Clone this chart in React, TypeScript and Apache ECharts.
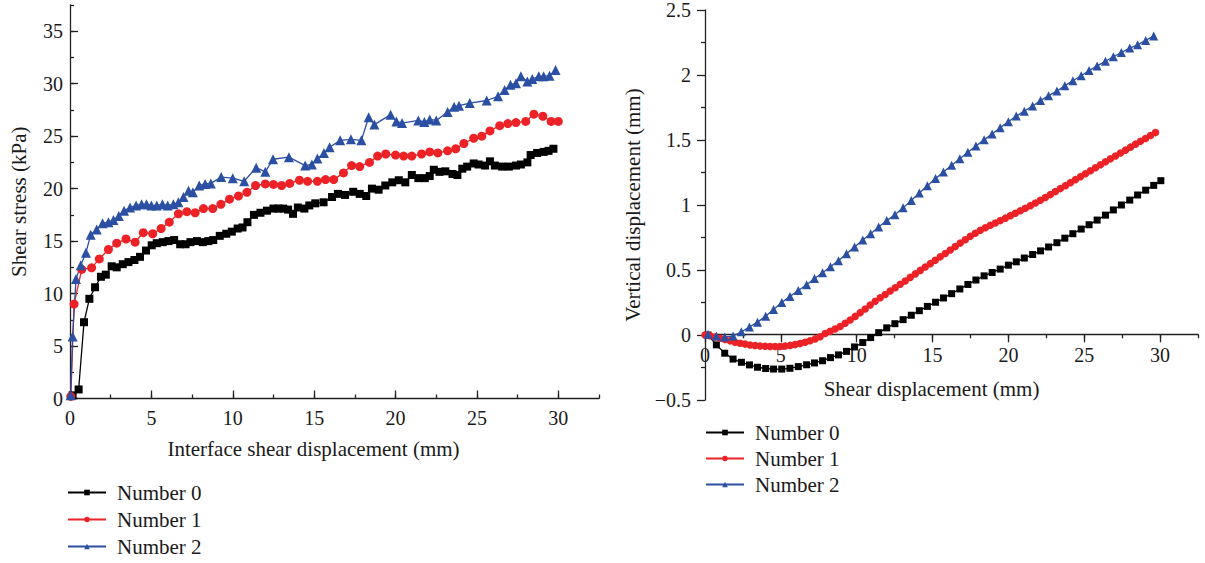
import React, { useEffect, useRef } from "react";
import * as echarts from "echarts";

const FONT = '"Liberation Serif", "DejaVu Serif", serif';
const TEXT_COLOR = "#1a1a1a";
const AXIS_COLOR = "#222222";
const SERIES_NAMES = ["Number 0", "Number 1", "Number 2"];
const COLORS = ["#000000", "#ec2227", "#2b4fa2"];

// ---------- Left chart: shear stress (kPa) vs interface shear displacement (mm)
const L0_X = [0.16, 0.53, 0.86, 1.19, 1.54, 1.9, 2.2, 2.56, 2.87, 3.24, 3.59, 3.96, 4.3, 4.67, 5.02, 5.33, 5.7, 6.05, 6.4, 6.77, 7.1, 7.4, 7.8, 8.16, 8.5, 8.8, 9.2, 9.6, 9.94, 10.3, 10.6, 10.9, 11.3, 11.7, 12.1, 12.5, 12.8, 13.1, 13.4, 13.7, 14.0, 14.4, 14.7, 15.07, 15.58, 16.1, 16.46, 16.9, 17.4, 17.8, 18.2, 18.55, 18.96, 19.37, 19.8, 20.2, 20.6, 21.0, 21.4, 21.8, 22.1, 22.35, 22.7, 23.06, 23.5, 23.8, 24.1, 24.4, 24.8, 25.1, 25.5, 25.8, 26.1, 26.55, 26.96, 27.4, 27.7, 28.1, 28.3, 28.7, 29.1, 29.4, 29.7];
const L0_Y = [0.3, 0.86, 7.27, 9.5, 10.6, 11.6, 11.8, 12.6, 12.5, 12.8, 13.0, 13.2, 13.5, 14.1, 14.6, 14.8, 14.9, 15.0, 15.1, 14.7, 14.7, 14.9, 15.0, 14.9, 15.0, 15.1, 15.5, 15.7, 15.9, 16.2, 16.3, 16.8, 17.5, 17.7, 17.9, 18.1, 18.1, 18.1, 18.0, 17.6, 18.2, 18.1, 18.4, 18.6, 18.7, 19.2, 19.5, 19.4, 19.7, 19.5, 19.3, 20.0, 19.9, 20.3, 20.6, 20.8, 20.6, 21.3, 21.0, 21.0, 21.2, 21.8, 21.6, 21.65, 21.4, 21.3, 21.9, 22.1, 22.4, 22.3, 22.2, 22.6, 22.2, 22.1, 22.1, 22.2, 22.3, 22.5, 23.2, 23.4, 23.5, 23.6, 23.8];

const L1_X = [0.05, 0.25, 0.72, 1.33, 1.8, 2.36, 2.87, 3.44, 4.0, 4.5, 5.08, 5.6, 6.1, 6.66, 7.18, 7.69, 8.2, 8.77, 9.27, 9.8, 10.35, 10.87, 11.4, 12.0, 12.5, 13.0, 13.5, 14.1, 14.6, 15.2, 15.7, 16.2, 16.8, 17.3, 17.8, 18.4, 18.9, 19.4, 20.0, 20.5, 21.0, 21.6, 22.1, 22.6, 23.2, 23.7, 24.2, 24.8, 25.3, 25.8, 26.4, 26.9, 27.4, 28.0, 28.5, 29.05, 29.56, 30.0];
const L1_Y = [0.2, 9.0, 12.3, 12.45, 13.3, 14.2, 14.8, 15.2, 14.9, 15.8, 15.7, 16.2, 16.8, 17.6, 17.8, 17.7, 18.1, 18.1, 18.5, 19.0, 19.3, 19.65, 20.3, 20.45, 20.4, 20.3, 20.5, 20.8, 20.7, 20.7, 20.86, 20.86, 21.5, 22.2, 22.1, 22.5, 23.1, 23.3, 23.2, 23.1, 23.1, 23.3, 23.5, 23.4, 23.6, 23.8, 24.3, 24.8, 25.0, 25.5, 26.0, 26.2, 26.3, 26.4, 27.1, 26.9, 26.4, 26.4];

const L2_X = [0.04, 0.16, 0.37, 0.66, 0.98, 1.27, 1.64, 2.0, 2.36, 2.67, 3.0, 3.32, 3.69, 4.06, 4.4, 4.7, 5.0, 5.33, 5.68, 6.0, 6.35, 6.66, 6.97, 7.28, 7.55, 7.94, 8.3, 8.65, 9.29, 10.0, 10.7, 11.44, 12.0, 12.47, 13.45, 14.45, 14.86, 15.2, 15.6, 15.95, 16.6, 17.26, 17.9, 18.35, 18.7, 19.7, 20.05, 20.4, 21.4, 21.77, 22.1, 22.5, 23.2, 23.6, 23.9, 24.56, 25.6, 26.3, 26.7, 27.06, 27.4, 27.7, 28.1, 28.4, 28.8, 29.1, 29.46, 29.83];
const L2_Y = [0.3, 5.9, 11.4, 12.7, 13.9, 15.6, 16.1, 16.7, 16.8, 17.0, 17.4, 17.9, 18.2, 18.4, 18.5, 18.5, 18.4, 18.4, 18.5, 18.4, 18.5, 18.7, 19.2, 19.8, 19.65, 20.3, 20.45, 20.5, 21.1, 21.0, 20.7, 22.0, 21.6, 22.8, 23.0, 22.2, 22.3, 22.86, 23.4, 23.95, 24.6, 24.7, 24.6, 26.8, 26.1, 27.05, 26.4, 26.25, 26.5, 26.35, 26.6, 26.5, 27.3, 27.8, 27.9, 28.15, 28.4, 28.8, 29.4, 29.9, 30.05, 30.7, 30.2, 30.45, 30.7, 30.7, 30.76, 31.3];

// ---------- Right chart: vertical displacement (mm) vs shear displacement (mm)
const R_X = [0.2, 0.75, 1.3, 1.85, 2.4, 2.93, 3.46, 4.0, 4.52, 5.06, 5.6, 6.15, 6.7, 7.22, 7.75, 8.27, 8.8, 9.33, 9.86, 10.4, 10.92, 11.45, 11.98, 12.52, 13.06, 13.6, 14.13, 14.66, 15.2, 15.72, 16.26, 16.8, 17.33, 17.86, 18.4, 18.93, 19.46, 20.0, 20.52, 21.05, 21.6, 22.12, 22.65, 23.2, 23.72, 24.25, 24.8, 25.32, 25.85, 26.4, 26.92, 27.45, 28.0, 28.52, 29.05, 29.58, 30.05];
const R0_Y = [0.0, -0.076, -0.14, -0.185, -0.21, -0.23, -0.248, -0.258, -0.262, -0.262, -0.256, -0.243, -0.229, -0.215, -0.198, -0.174, -0.153, -0.126, -0.092, -0.058, -0.02, 0.018, 0.055, 0.087, 0.118, 0.152, 0.187, 0.22, 0.252, 0.285, 0.318, 0.354, 0.389, 0.423, 0.455, 0.481, 0.507, 0.537, 0.563, 0.592, 0.619, 0.647, 0.677, 0.71, 0.745, 0.779, 0.815, 0.848, 0.884, 0.922, 0.962, 1.0, 1.038, 1.077, 1.114, 1.151, 1.187];
const R2_Y = [0.005, -0.008, -0.015, -0.008, 0.025, 0.061, 0.099, 0.145, 0.196, 0.25, 0.297, 0.342, 0.386, 0.434, 0.479, 0.525, 0.572, 0.625, 0.677, 0.731, 0.779, 0.83, 0.88, 0.925, 0.978, 1.035, 1.093, 1.148, 1.203, 1.254, 1.305, 1.356, 1.406, 1.454, 1.501, 1.547, 1.595, 1.64, 1.684, 1.722, 1.762, 1.804, 1.841, 1.876, 1.918, 1.956, 1.994, 2.034, 2.07, 2.106, 2.14, 2.173, 2.207, 2.232, 2.266, 2.3];

const R1_X = [0, 0.33, 0.66, 0.99, 1.32, 1.65, 1.98, 2.31, 2.64, 2.97, 3.3, 3.63, 3.96, 4.29, 4.62, 4.95, 5.28, 5.61, 5.94, 6.27, 6.6, 6.93, 7.26, 7.59, 7.92, 8.25, 8.58, 8.91, 9.24, 9.57, 9.9, 10.23, 10.56, 10.89, 11.22, 11.55, 11.88, 12.21, 12.54, 12.87, 13.2, 13.53, 13.86, 14.19, 14.52, 14.85, 15.18, 15.51, 15.84, 16.17, 16.5, 16.83, 17.16, 17.49, 17.82, 18.15, 18.48, 18.81, 19.14, 19.47, 19.8, 20.13, 20.46, 20.79, 21.12, 21.45, 21.78, 22.11, 22.44, 22.77, 23.1, 23.43, 23.76, 24.09, 24.42, 24.75, 25.08, 25.41, 25.74, 26.07, 26.4, 26.73, 27.06, 27.39, 27.72, 28.05, 28.38, 28.71, 29.04, 29.37, 29.7];
const R1_Y = [0, -0.006, -0.015, -0.025, -0.035, -0.045, -0.055, -0.063, -0.07, -0.077, -0.081, -0.085, -0.087, -0.088, -0.089, -0.088, -0.085, -0.08, -0.074, -0.066, -0.056, -0.044, -0.03, -0.014, 0.012, 0.028, 0.046, 0.066, 0.09, 0.115, 0.143, 0.172, 0.2, 0.23, 0.259, 0.286, 0.312, 0.338, 0.364, 0.39, 0.416, 0.443, 0.47, 0.497, 0.523, 0.549, 0.575, 0.601, 0.627, 0.654, 0.68, 0.707, 0.733, 0.759, 0.783, 0.805, 0.825, 0.844, 0.862, 0.88, 0.899, 0.918, 0.937, 0.956, 0.975, 0.995, 1.015, 1.036, 1.058, 1.08, 1.103, 1.126, 1.149, 1.172, 1.195, 1.218, 1.24, 1.263, 1.286, 1.309, 1.332, 1.355, 1.377, 1.4, 1.422, 1.445, 1.468, 1.49, 1.512, 1.535, 1.557];

// ---------- Axis ticks
const X_MAJOR = [0, 5, 10, 15, 20, 25, 30];
const L_Y_MAJOR = [0, 5, 10, 15, 20, 25, 30, 35];

const zip = (xs: number[], ys: number[]) => ys.map((y, i) => [xs[i], y]);

// right grid geometry: y range -0.5..2.5 over 394 px, x axis drawn at y = 0
const R_GRID_H = 394;
const R_ZERO_OFFSET = -(0.5 / 3) * R_GRID_H;

export default function App() {
  const ref = useRef<HTMLDivElement>(null);
  useEffect(() => {
    if (!ref.current) return;
    const chart = echarts.init(ref.current, null, { renderer: "svg" });
    const label = { fontFamily: FONT, fontSize: 20, color: TEXT_COLOR };
    const nameStyle = { fontFamily: FONT, fontSize: 21, color: TEXT_COLOR };
    const tickLine = { color: AXIS_COLOR, width: 1.3 };
    const axisLine = { show: true, onZero: false, lineStyle: { color: AXIS_COLOR, width: 1.3 } };

    const mkSeries = (
      name: string,
      data: number[][],
      color: string,
      symbol: string,
      size: number,
      xi: number,
      yi: number
    ) => ({
      type: "line",
      name,
      data,
      xAxisIndex: xi,
      yAxisIndex: yi,
      symbol,
      symbolSize: size,
      showAllSymbol: true,
      lineStyle: { color, width: 1.3 },
      itemStyle: { color },
      z: 3,
    });

    const legendBase = {
      data: SERIES_NAMES,
      orient: "vertical",
      padding: 0,
      itemWidth: 38,
      itemHeight: 7,
      itemGap: 6,
      height: 120,
      textStyle: { fontFamily: FONT, fontSize: 21, color: TEXT_COLOR, padding: [0, 0, 0, 6] },
    };

    chart.setOption({
      animation: false,
      backgroundColor: "#ffffff",
      grid: [
        { left: 70, top: 5, width: 529, height: 393.5 },
        { left: 705, top: 6, width: 493, height: R_GRID_H },
      ],
      xAxis: [
        {
          type: "value",
          gridIndex: 0,
          position: "bottom",
          min: 0,
          max: 32.5,
          interval: 2.5,
          axisLine,
          axisTick: { show: true, inside: true, length: 8, customValues: X_MAJOR, lineStyle: tickLine },
          axisLabel: { ...label, margin: 9, customValues: X_MAJOR },
          splitLine: { show: false },
          name: "Interface shear displacement (mm)",
          nameLocation: "middle",
          nameGap: 40,
          nameTextStyle: { ...nameStyle, padding: [0, 42, 0, 0] },
        },
        {
          type: "value",
          gridIndex: 0,
          position: "bottom",
          min: 0,
          max: 32.5,
          interval: 2.5,
          axisLine: { show: false, onZero: false },
          axisTick: { show: true, inside: true, length: 4, lineStyle: tickLine },
          axisLabel: { show: false },
          splitLine: { show: false },
        },
        {
          type: "value",
          gridIndex: 1,
          position: "bottom",
          offset: R_ZERO_OFFSET,
          min: 0,
          max: 32.5,
          interval: 2.5,
          axisLine,
          axisTick: { show: true, inside: false, length: 8, customValues: X_MAJOR, lineStyle: tickLine },
          axisLabel: { ...label, margin: 11, customValues: X_MAJOR },
          splitLine: { show: false },
          name: "Shear displacement (mm)",
          nameLocation: "middle",
          nameGap: 44,
          nameTextStyle: { ...nameStyle, padding: [0, 40, 0, 0] },
        },
        {
          type: "value",
          gridIndex: 1,
          position: "bottom",
          offset: R_ZERO_OFFSET,
          min: 0,
          max: 32.5,
          interval: 2.5,
          axisLine: { show: false, onZero: false },
          axisTick: { show: true, inside: false, length: 4, lineStyle: tickLine },
          axisLabel: { show: false },
          splitLine: { show: false },
        },
      ],
      yAxis: [
        {
          type: "value",
          gridIndex: 0,
          position: "left",
          min: 0,
          max: 37.5,
          interval: 2.5,
          axisLine,
          axisTick: { show: true, inside: true, length: 8, customValues: L_Y_MAJOR, lineStyle: tickLine },
          axisLabel: { ...label, margin: 7, customValues: L_Y_MAJOR },
          splitLine: { show: false },
          name: "Shear stress (kPa)",
          nameLocation: "middle",
          nameGap: 41,
          nameTextStyle: nameStyle,
        },
        {
          type: "value",
          gridIndex: 0,
          position: "left",
          min: 0,
          max: 37.5,
          interval: 2.5,
          axisLine: { show: false, onZero: false },
          axisTick: { show: true, inside: true, length: 4, lineStyle: tickLine },
          axisLabel: { show: false },
          splitLine: { show: false },
        },
        {
          type: "value",
          gridIndex: 1,
          position: "left",
          min: -0.5,
          max: 2.5,
          interval: 0.5,
          axisLine,
          axisTick: { show: true, inside: false, length: 8, lineStyle: tickLine },
          minorTick: { show: true, splitNumber: 2, length: 4, lineStyle: tickLine },
          axisLabel: {
            ...label,
            margin: 14,
            formatter: (v: number) => String(v).replace("-", "\u2212"),
          },
          splitLine: { show: false },
          minorSplitLine: { show: false },
          name: "Vertical displacement (mm)",
          nameLocation: "middle",
          nameGap: 62,
          nameTextStyle: nameStyle,
        },
      ],
      legend: [
        { ...legendBase, left: 67, top: 482 },
        { ...legendBase, left: 705, top: 422, itemGap: 5 },
      ],
      series: [
        mkSeries(SERIES_NAMES[0], zip(L0_X, L0_Y), COLORS[0], "rect", 8, 0, 0),
        mkSeries(SERIES_NAMES[1], zip(L1_X, L1_Y), COLORS[1], "circle", 9, 0, 0),
        mkSeries(SERIES_NAMES[2], zip(L2_X, L2_Y), COLORS[2], "triangle", 10, 0, 0),
        mkSeries(SERIES_NAMES[0], zip(R_X, R0_Y), COLORS[0], "rect", 7, 2, 2),
        mkSeries(SERIES_NAMES[1], zip(R1_X, R1_Y), COLORS[1], "circle", 7.5, 2, 2),
        mkSeries(SERIES_NAMES[2], zip(R_X, R2_Y), COLORS[2], "triangle", 9, 2, 2),
      ],
    });
    return () => chart.dispose();
  }, []);
  return (
    <div
      ref={ref}
      style={{ position: "fixed", left: 0, top: 0, width: 1205, height: 563, background: "#fff" }}
    />
  );
}
